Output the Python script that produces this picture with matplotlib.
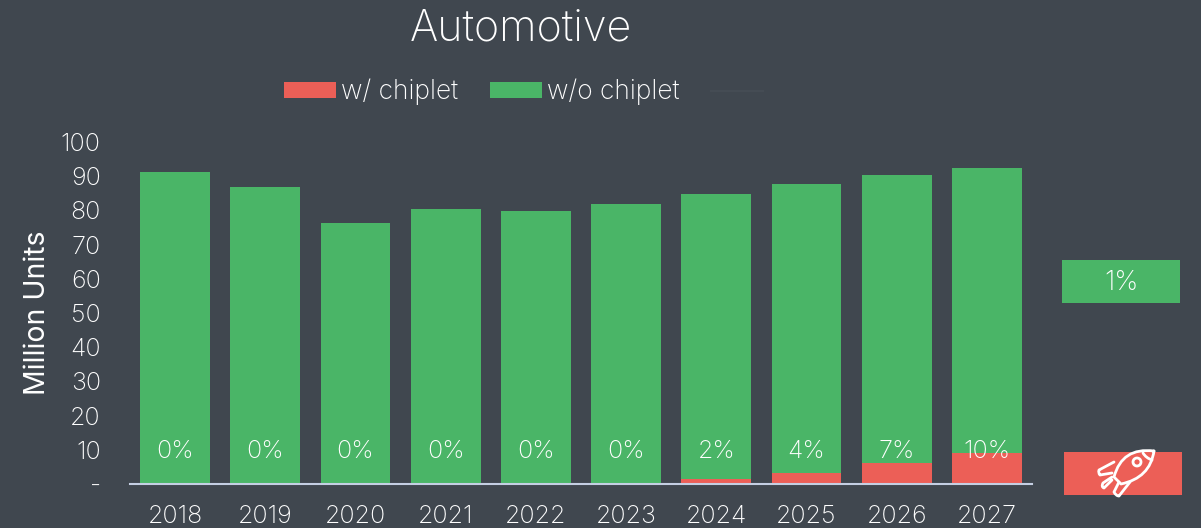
import numpy as np
import matplotlib
matplotlib.use("Agg")
import matplotlib.pyplot as plt
from matplotlib.patches import Rectangle, PathPatch, Circle
from matplotlib.path import Path
from matplotlib.lines import Line2D

years = ["2018", "2019", "2020", "2021", "2022", "2023", "2024", "2025", "2026", "2027"]
with_chiplet = [0, 0, 0, 0, 0, 0, 1.4, 3.2, 6.1, 9.0]
without_chiplet = [91.2, 86.8, 76.4, 80.5, 79.8, 81.8, 83.4, 84.5, 84.3, 83.4]
share_labels = ["0%", "0%", "0%", "0%", "0%", "0%", "2%", "4%", "7%", "10%"]
y_ticks = [0, 10, 20, 30, 40, 50, 60, 70, 80, 90, 100]
y_labels = ["-", "10", "20", "30", "40", "50", "60", "70", "80", "90", "100"]
cagr_label = "1%"

BG = "#40474f"
GREEN = "#4ab567"
RED = "#ec5f57"
TEXT = "#ffffff"

plt.rcParams["font.family"] = ["Inter", "DejaVu Sans"]
plt.rcParams["font.weight"] = "light"

W, H = 1201, 528
fig = plt.figure(figsize=(W / 100, H / 100), dpi=100, facecolor=BG)
ax = fig.add_axes([130 / W, 1 - 484 / H, 902 / W, 342 / H], facecolor=BG)

x = np.arange(len(years))
ax.bar(x, with_chiplet, width=0.776, color=RED, label="w/ chiplet")
ax.bar(x, without_chiplet, width=0.776, bottom=with_chiplet, color=GREEN, label="w/o chiplet")

for i, lab in enumerate(share_labels):
    ax.text(i, 9.6, lab, ha="center", va="center", color=TEXT, fontsize=18, zorder=5)

ax.set_xlim(-0.5, 9.5)
ax.set_ylim(0, 100)
ax.set_xticks(x)
ax.set_xticklabels(years, fontsize=18, color=TEXT)
ax.set_yticks(y_ticks)
ax.set_yticklabels(y_labels, fontsize=18, color=TEXT)
ax.tick_params(axis="both", length=0)
ax.tick_params(axis="x", pad=15)
ax.tick_params(axis="y", pad=21)
for s in ["top", "right", "left"]:
    ax.spines[s].set_visible(False)
ax.spines["bottom"].set_color("#c5cfe3")
ax.spines["bottom"].set_linewidth(1.5)
ax.set_ylabel("Million Units", fontsize=20.5, color=TEXT, labelpad=7)

fig.text(521 / W, 1 - 29 / H, "Automotive", ha="center", va="center", color=TEXT, fontsize=31)

handles, labels = ax.get_legend_handles_labels()
handles.append(Line2D([0], [0], color="#454c54", lw=1.5))
labels.append(" ")
fig.legend(handles, labels, loc="center", ncol=3, bbox_to_anchor=(530 / W, 1 - 92 / H),
           frameon=False, fontsize=19, labelcolor=TEXT, handlelength=1.97, handleheight=0.57,
           handletextpad=0.2, columnspacing=1.2)

# side boxes and rocket icon, in pixel coordinates
ov = fig.add_axes([0, 0, 1, 1], facecolor="none")
ov.set_xlim(0, W)
ov.set_ylim(H, 0)
ov.axis("off")
ov.add_patch(Rectangle((1062, 260), 118, 43, color=GREEN, lw=0))
ov.text(1121, 283, cagr_label, ha="center", va="center", color=TEXT, fontsize=19.5)
ov.add_patch(Rectangle((1064, 452), 118, 43, color=RED, lw=0))

M, L, C3 = Path.MOVETO, Path.LINETO, Path.CURVE3
body = Path([(1154, 451), (1122, 447), (1114, 477), (1121, 484), (1150, 478), (1154, 451)],
            [M, C3, C3, L, C3, C3])
nose = Path([(1143, 453), (1146, 458), (1152, 460)], [M, C3, C3])
left_fin = Path([(1114, 462), (1099, 470), (1098, 473), (1100, 475), (1112, 473)], [M, L, C3, C3, L])
right_fin = Path([(1119, 482), (1114, 492), (1116, 496), (1119, 496), (1130, 482)], [M, L, C3, C3, L])
flame = Path([(1112, 477), (1103, 483), (1101, 487), (1104, 488), (1112, 480)], [M, L, C3, C3, L])
for p in [body, nose, left_fin, right_fin, flame]:
    ov.add_patch(PathPatch(p, fc="none", ec=TEXT, lw=2, capstyle="round", joinstyle="round"))
ov.add_patch(Circle((1137, 462), 4, fc="none", ec=TEXT, lw=2))

fig.savefig("out.png", dpi=100, facecolor=BG)
